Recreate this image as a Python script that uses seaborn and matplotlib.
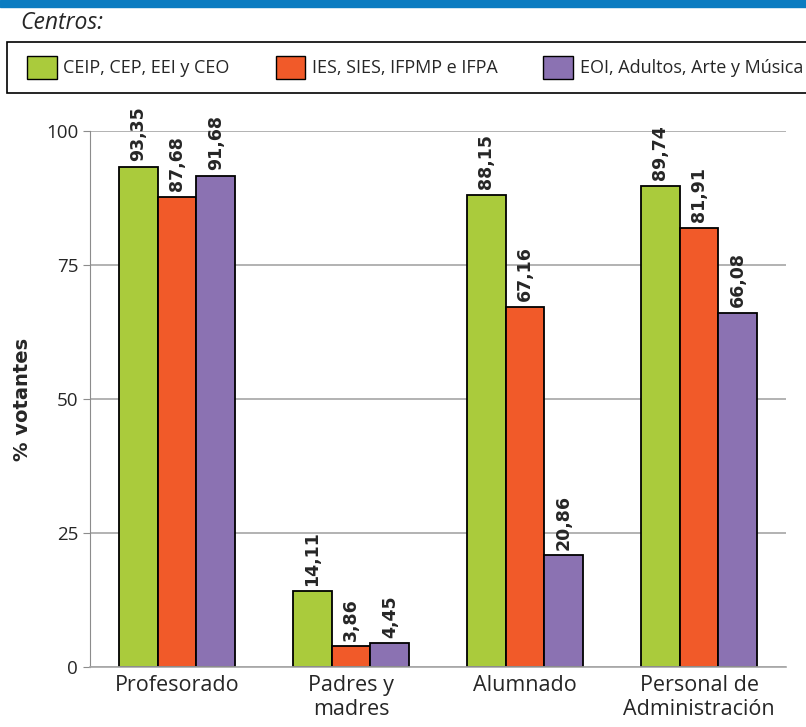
import seaborn as sns
import matplotlib.pyplot as plt
import matplotlib.patches as mpatches
import pandas as pd

# Data
categories = ['Profesorado', 'Padres y\nmadres', 'Alumnado', 'Personal de\nAdministración']
centros = ['CEIP, CEP, EEI y CEO', 'IES, SIES, IFPMP e IFPA', 'EOI, Adultos, Arte y Música']
ceip = [93.35, 14.11, 88.15, 89.74]
ies = [87.68, 3.86, 67.16, 81.91]
eoi = [91.68, 4.45, 20.86, 66.08]
colors = ['#aacb3c', '#f15a29', '#8b72b2']

rows = []
for name, vals in zip(centros, [ceip, ies, eoi]):
    for cat, v in zip(categories, vals):
        rows.append({'Colectivo': cat, 'Centro': name, 'Valor': v})
df = pd.DataFrame(rows)

sns.set_style('white')
plt.rcParams['font.family'] = ['Open Sans', 'DejaVu Sans']

fig = plt.figure(figsize=(8.06, 7.27), dpi=100)
ax = fig.add_axes([90 / 806, 1 - 667 / 727, 696 / 806, 536 / 727])

sns.barplot(data=df, x='Colectivo', y='Valor', hue='Centro', palette=colors, saturation=1,
            width=0.67, edgecolor='black', linewidth=1.3, ax=ax, legend=False)

for cont in ax.containers:
    labels = [f'{b.get_height():.2f}'.replace('.', ',') for b in cont]
    ax.bar_label(cont, labels=labels, rotation=90, padding=4, fontsize=12.5,
                 fontweight='bold', family='DejaVu Sans', clip_on=False)

ax.set_ylim(0, 100)
ax.set_yticks([0, 25, 50, 75, 100])
ax.set_xlim(-0.5, 3.5)
ax.yaxis.grid(True, color='#a6a6a6', linewidth=1.2)
ax.set_axisbelow(True)
for s in ['top', 'right']:
    ax.spines[s].set_visible(False)
ax.spines['left'].set_color('#8c8c8c')
ax.spines['bottom'].set_color('#a6a6a6')
ax.spines['bottom'].set_linewidth(1.2)
ax.tick_params(axis='y', left=True, length=5, color='#8c8c8c', labelsize=13.5)
ax.tick_params(axis='x', bottom=False, labelsize=15.5, pad=2)
ax.set_xlabel('')
ax.set_ylabel('% votantes', fontsize=14, fontweight='bold', family='DejaVu Sans')
ax.yaxis.set_label_coords(-58 / 696, 0.5)

# header band and "Centros:"
fig.patches.append(mpatches.Rectangle((0, 1 - 7 / 727), 1, 7 / 727, transform=fig.transFigure,
                                      color='#0b7cc1', zorder=0))
fig.text(20 / 806, 1 - 23 / 727, 'Centros:', fontsize=16.5, style='italic', va='center')

# legend box (runs past the right edge, as in the original)
fig.patches.append(mpatches.Rectangle((7 / 806, 1 - 93 / 727), 820 / 806, 51 / 727,
                                      transform=fig.transFigure, facecolor='white',
                                      edgecolor='black', linewidth=1.2, zorder=1))
handles = [mpatches.Patch(facecolor=c, edgecolor='black', linewidth=1) for c in colors]
leg = fig.legend(handles, centros, loc='center left', ncol=3,
                 bbox_to_anchor=(27 / 806, 1 - 67.5 / 727),
                 fontsize=13, frameon=False,
                 handlelength=1.65, handleheight=1.5, handletextpad=0.35, borderaxespad=0,
                 borderpad=0, columnspacing=2.55)
leg.set_zorder(2)

fig.savefig('out.png', dpi=100)
